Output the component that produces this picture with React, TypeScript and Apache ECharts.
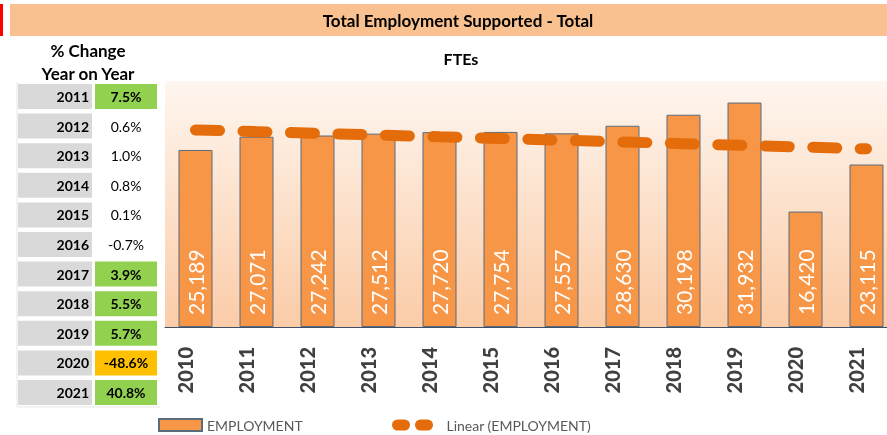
import React, { useEffect, useRef } from "react";
import * as echarts from "echarts";

const years = ["2010", "2011", "2012", "2013", "2014", "2015", "2016", "2017", "2018", "2019", "2020", "2021"];
const employment = [25189, 27071, 27242, 27512, 27720, 27754, 27557, 28630, 30198, 31932, 16420, 23115];
const trendValues = [28040, 27795, 27550, 27305, 27060, 26820, 26575, 26330, 26085, 25840, 25595, 25350];
const changeYears = ["2011", "2012", "2013", "2014", "2015", "2016", "2017", "2018", "2019", "2020", "2021"];
const changePct = [7.5, 0.6, 1.0, 0.8, 0.1, -0.7, 3.9, 5.5, 5.7, -48.6, 40.8];

const FONT = "Lato, 'Open Sans', sans-serif";

function buildTable(): any[] {
  const els: any[] = [];
  const rowTop = 84;
  const pitch = 29.6;
  const rowH = 25;
  changeYears.forEach((y, i) => {
    const top = rowTop + i * pitch;
    const v = changePct[i];
    const fill = v > 2 ? "#92D050" : v < -10 ? "#FFC000" : null;
    els.push({ type: "rect", shape: { x: 18, y: top, width: 74, height: rowH }, style: { fill: "#D9D9D9" } });
    if (fill) {
      els.push({ type: "rect", shape: { x: 95, y: top, width: 62, height: rowH }, style: { fill } });
    }
    els.push({
      type: "text", x: 89, y: top + rowH / 2,
      style: { text: y, fontFamily: FONT, fontSize: 14, fontWeight: "bold", fill: "#000", align: "right", verticalAlign: "middle" },
    });
    els.push({
      type: "text", x: 126, y: top + rowH / 2,
      style: { text: v.toFixed(1) + "%", fontFamily: FONT, fontSize: 14, fontWeight: fill ? "bold" : "normal", fill: "#000", align: "center", verticalAlign: "middle" },
    });
  });
  els.push({ type: "line", shape: { x1: 17, y1: 407, x2: 160, y2: 407 }, style: { stroke: "#E8E8E8", lineWidth: 1 } });
  els.push({ type: "line", shape: { x1: 17, y1: 82, x2: 17, y2: 407 }, style: { stroke: "#E8E8E8", lineWidth: 1 } });
  return els;
}

export default function App() {
  const ref = useRef<HTMLDivElement>(null);
  useEffect(() => {
    if (!ref.current) return;
    const chart = echarts.init(ref.current, null, { renderer: "svg" });
    chart.setOption({
      animation: false,
      textStyle: { fontFamily: FONT },
      grid: {
        left: 165, top: 81, right: 0, bottom: 108, show: true, borderWidth: 0,
        backgroundColor: new echarts.graphic.LinearGradient(0, 0, 0, 1, [
          { offset: 0, color: "#FEF6EF" },
          { offset: 1, color: "#FBCCA8" },
        ]),
      },
      xAxis: {
        type: "category", data: years,
        axisLine: { lineStyle: { color: "#3E5067", width: 1 } },
        axisTick: { lineStyle: { color: "#3E5067" }, length: 6 },
        axisLabel: { rotate: 90, margin: 20, color: "#404040", fontSize: 20, fontWeight: 900, fontFamily: FONT, verticalAlign: "bottom", lineHeight: 22 },
      },
      yAxis: { type: "value", min: 0, max: 35000, show: false, splitLine: { show: false } },
      legend: [
        {
          left: 158, top: 418, padding: 0, itemWidth: 43, itemHeight: 12, icon: "rect",
          data: ["EMPLOYMENT"],
          textStyle: { color: "#595959", fontSize: 14, fontFamily: FONT },
        },
        {
          left: 392, top: 418, padding: 0, itemWidth: 30, itemHeight: 12,
          data: ["Linear (EMPLOYMENT)"],
          itemStyle: { opacity: 0 },
          lineStyle: { color: "#E46C0A", width: 11, type: [7, 16], cap: "round" },
          textStyle: { color: "#595959", fontSize: 14, fontFamily: FONT, padding: [0, 0, 0, 14] },
        },
      ],
      series: [
        {
          name: "EMPLOYMENT", type: "bar", data: employment, barWidth: 34,
          itemStyle: { color: "#F79646", borderColor: "#5B6B7C", borderWidth: 1 },
          label: {
            show: true, position: "insideBottom", rotate: 90, distance: 12,
            align: "left", verticalAlign: "middle",
            color: "#FFFFFF", fontSize: 21, fontFamily: FONT,
            formatter: (p: any) => Number(p.value).toLocaleString("en-US"),
          },
        },
        {
          name: "Linear (EMPLOYMENT)", type: "line", data: trendValues, showSymbol: false, symbol: "none", z: 5,
          lineStyle: { color: "#E46C0A", width: 11, type: [24, 23.5], cap: "round" },
          itemStyle: { color: "#E46C0A" },
        },
      ],
      graphic: [
        { type: "rect", shape: { x: 0, y: 4, width: 3, height: 32 }, style: { fill: "#FF0000" } },
        { type: "rect", shape: { x: 10, y: 4, width: 877, height: 32 }, style: { fill: "#F8C18F" } },
        { type: "text", x: 458, y: 20, style: { text: "Total Employment Supported - Total", fontFamily: FONT, fontSize: 17, fontWeight: "bold", fill: "#000", align: "center", verticalAlign: "middle" } },
        { type: "text", x: 461, y: 58, style: { text: "FTEs", fontFamily: FONT, fontSize: 16, fontWeight: "bold", fill: "#000", align: "center", verticalAlign: "middle" } },
        { type: "text", x: 88, y: 50, style: { text: "% Change", fontFamily: FONT, fontSize: 17, fontWeight: "bold", fill: "#000", align: "center", verticalAlign: "middle" } },
        { type: "text", x: 88, y: 73, style: { text: "Year on Year", fontFamily: FONT, fontSize: 17, fontWeight: "bold", fill: "#000", align: "center", verticalAlign: "middle" } },
        ...buildTable(),
      ],
    });
    return () => chart.dispose();
  }, []);
  return (
    <div style={{ position: "fixed", left: 0, top: 0, width: 887, height: 435, overflow: "hidden" }}>
      <div ref={ref} style={{ width: 897, height: 435 }} />
    </div>
  );
}
